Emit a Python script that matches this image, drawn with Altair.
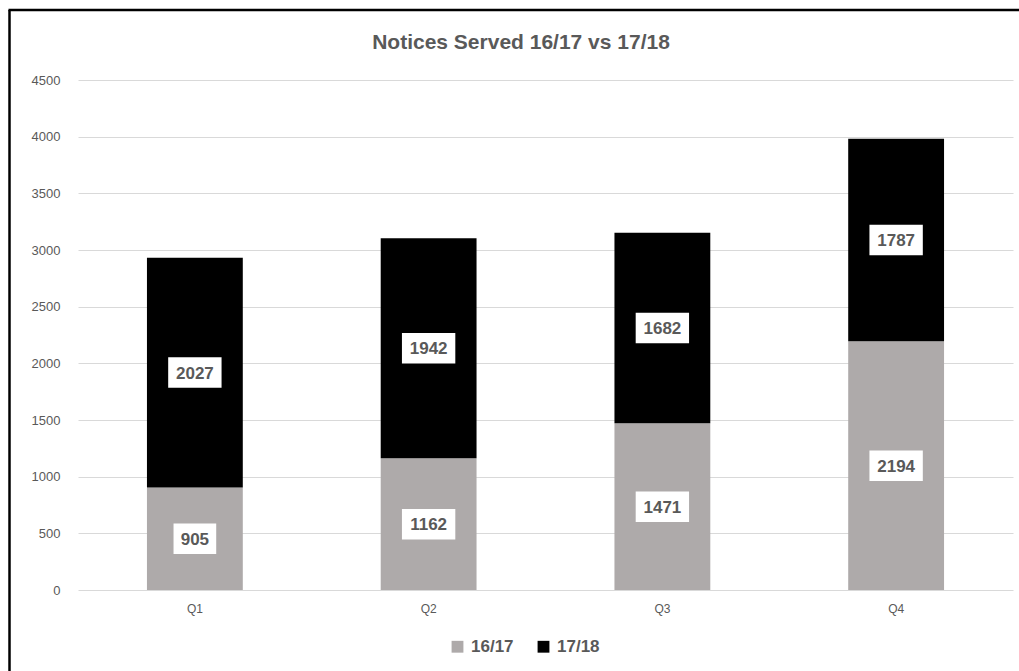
import altair as alt
import pandas as pd

quarters = ["Q1", "Q2", "Q3", "Q4"]
series_names = ["16/17", "17/18"]
values_1617 = [905, 1162, 1471, 2194]
values_1718 = [2027, 1942, 1682, 1787]
title_text = "Notices Served 16/17 vs 17/18"
y_ticks = [0, 500, 1000, 1500, 2000, 2500, 3000, 3500, 4000, 4500]

rows = []
for q, a, b in zip(quarters, values_1617, values_1718):
    rows.append({"quarter": q, "series": "16/17", "value": a})
    rows.append({"quarter": q, "series": "17/18", "value": b})
df = pd.DataFrame(rows)

FONT = "Liberation Sans"
GREY_TEXT = "#595959"

x_enc = alt.X(
    "quarter:N",
    sort=quarters,
    scale=alt.Scale(paddingInner=0.59, paddingOuter=0.295),
    axis=alt.Axis(
        title=None, labelAngle=0, ticks=False, domain=False, labelPadding=13,
        labelColor=GREY_TEXT, labelFontSize=12, labelFont=FONT, grid=False,
    ),
)

base = alt.Chart(df).transform_stack(
    stack="value", groupby=["quarter"], as_=["v0", "v1"],
    sort=[alt.SortField("series", order="ascending")],
).transform_calculate(
    mid="(datum.v0 + datum.v1) / 2",
    box="length(toString(datum.value)) > 3 ? 'M-1.75,-1L1.75,-1L1.75,1L-1.75,1Z' : 'M-1.4,-1L1.4,-1L1.4,1L-1.4,1Z'",
)

bars = base.mark_bar().encode(
    x=x_enc,
    y=alt.Y(
        "v0:Q",
        scale=alt.Scale(domain=[0, 4500], nice=False),
        axis=alt.Axis(
            values=y_ticks, format="d", title=None, ticks=False, domain=False, grid=True,
            gridColor="#d9d9d9", gridWidth=1, labelPadding=18,
            labelColor=GREY_TEXT, labelFontSize=13, labelFont=FONT,
        ),
    ),
    y2="v1:Q",
    color=alt.Color(
        "series:N",
        scale=alt.Scale(domain=series_names, range=["#aeaaaa", "#000000"]),
        legend=alt.Legend(
            orient="none", legendX=371, legendY=558, direction="horizontal",
            title=None, symbolType="square", symbolSize=140, symbolStrokeWidth=0,
            labelFontSize=17, labelFontWeight="bold", labelColor=GREY_TEXT,
            labelFont=FONT, columnPadding=21, labelOffset=5, padding=0,
        ),
    ),
)

boxes = base.mark_point(filled=True, color="white", opacity=1, size=930, strokeWidth=0).encode(
    x=x_enc,
    y=alt.Y("mid:Q", title=None),
    shape=alt.Shape("box:N", scale=None),
)

labels = base.mark_text(
    fontSize=17, fontWeight="bold", color=GREY_TEXT, font=FONT, baseline="middle", dy=1,
).encode(
    x=x_enc,
    y=alt.Y("mid:Q", title=None),
    text="value:Q",
)

title = alt.Chart(pd.DataFrame({"t": [title_text]})).mark_text(
    fontSize=21, fontWeight="bold", color=GREY_TEXT, font=FONT, baseline="alphabetic", align="center",
).encode(x=alt.value(443), y=alt.value(-31), text="t:N")

one = pd.DataFrame({"a": [0]})
frame_left = alt.Chart(one).mark_rule(color="black", strokeWidth=2.5).encode(
    x=alt.value(-68.5), y=alt.value(-70), y2=alt.value(600)
)
frame_top = alt.Chart(one).mark_rule(color="black", strokeWidth=2.5).encode(
    x=alt.value(-69.5), x2=alt.value(950), y=alt.value(-70)
)

chart = alt.layer(bars, boxes, labels, title, frame_left, frame_top).properties(
    width=935, height=510,
    padding={"left": 78, "top": 80, "right": 6, "bottom": 81},
    autosize=alt.AutoSizeParams(type="none"),
    background="white",
).configure_view(stroke=None)

chart.save("out.html", embed_options={"renderer": "svg", "actions": False})
